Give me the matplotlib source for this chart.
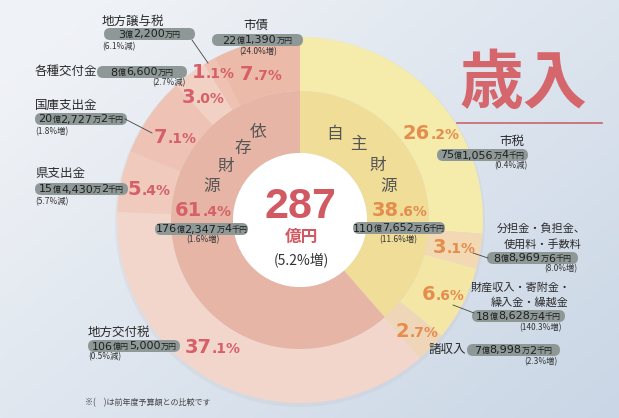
import re
import matplotlib
matplotlib.use('Agg')
import matplotlib.pyplot as plt
import numpy as np
from matplotlib.patches import FancyBboxPatch

W, H = 619, 418
plt.rcParams['font.family'] = ['Noto Sans CJK JP', 'DejaVu Sans']

# ---------------- data ----------------
outer_labels = ['市税', '分担金・負担金、\n使用料・手数料', '財産収入・寄附金・\n繰入金・繰越金', '諸収入',
                '地方交付税', '県支出金', '国庫支出金', '各種交付金', '地方譲与税', '市債']
outer_pct = [26.2, 3.1, 6.6, 2.7, 37.1, 5.4, 7.1, 3.0, 1.1, 7.7]
outer_amount = ['75億1,056万4千円', '8億8,969万6千円', '18億8,628万4千円', '7億8,998万2千円',
                '106億円5,000万円', '15億4,430万2千円', '20億2,727万2千円', '8億6,600万円',
                '3億2,200万円', '22億1,390万円']
outer_change = ['(0.4%減)', '(8.0%増)', '(140.3%増)', '(2.3%増)', '(0.5%減)', '(5.7%減)',
                '(1.8%増)', '(2.7%減)', '(6.1%減)', '(24.0%増)']
inner_labels = ['自主財源', '依存財源']
inner_pct = [38.6, 61.4]
inner_amount = ['110億7,652万6千円', '176億2,347万4千円']
inner_change = ['(11.6%増)', '(1.6%増)']
total_label = '287'
total_unit = '億円'
total_change = '(5.2%増)'
title = '歳入'
footnote = '※(　)は前年度予算額との比較です'

# ---------------- style / layout ----------------
outer_colors = ['#f5ebab', '#f2d9b4', '#f4e7a6', '#f0d6b8',
                '#f2d6cc', '#efcabd', '#eec3b5', '#f2d1c5', '#eec1b2', '#ecbaa8']
inner_colors = ['#efdd98', '#e7b5a5']
PINK = '#d65f68'
ORANGE = '#e48d4c'

cx, cy = 300, 220  # image coords
R_OUT, R_MID, R_IN = 183, 129, 67

fig = plt.figure(figsize=(W / 100, H / 100), dpi=100)
ax = fig.add_axes([0, 0, 1, 1])

def Y(y):
    return H - y

# background gradient
gx, gy = np.meshgrid(np.linspace(0, 1, 200), np.linspace(0, 1, 150))
t = np.clip(0.6 * gx + 0.5 * gy - 0.1, 0, 1)
c0 = np.array([0.94, 0.95, 0.965])
c1 = np.array([0.79, 0.84, 0.90])
bg = c0[None, None, :] * (1 - t[..., None]) + c1[None, None, :] * t[..., None]
ax.imshow(bg, extent=[0, W, 0, H], origin='upper', zorder=0, aspect='auto')

# soft shadow
ax.add_patch(plt.Circle((cx, Y(cy) - 2), R_OUT + 2, color='#b9b3b3', alpha=0.15, lw=0, zorder=1))

ax.pie(outer_pct, radius=R_OUT, center=(cx, Y(cy)), startangle=90, counterclock=False,
       colors=outer_colors, wedgeprops=dict(width=R_OUT - R_MID, linewidth=0), frame=True)
ax.pie(inner_pct, radius=R_MID, center=(cx, Y(cy)), startangle=90, counterclock=False,
       colors=inner_colors, wedgeprops=dict(width=R_MID - R_IN, linewidth=0), frame=True)
ax.add_patch(plt.Circle((cx, Y(cy)), R_IN, color='white', lw=0, zorder=3))

ax.set_xlim(0, W)
ax.set_ylim(0, H)
ax.set_aspect('equal')
ax.set_axis_off()

renderer = fig.canvas.get_renderer()

def rich(x, y, parts, ha='center', va='baseline', zorder=6):
    texts, widths = [], []
    inv = ax.transData.inverted()
    for s, kw in parts:
        tt = ax.text(0, Y(y), s, ha='left', va=va, zorder=zorder, **kw)
        bb = tt.get_window_extent(renderer=renderer)
        x0 = inv.transform((bb.x0, bb.y0))[0]
        x1 = inv.transform((bb.x1, bb.y0))[0]
        texts.append(tt)
        widths.append(x1 - x0)
    total = sum(widths)
    start = {'center': x - total / 2, 'left': x, 'right': x - total}[ha]
    for tt, w in zip(texts, widths):
        tt.set_x(start)
        start += w

def pct_label(x, y, v, color):
    s = f'{v:.1f}%'
    a, b = s.split('.')
    rich(x, y, [(a, dict(fontsize=14, fontweight='bold', color=color, family='DejaVu Sans')),
                ('.' + b, dict(fontsize=10, fontweight='bold', color=color, family='DejaVu Sans'))])

def amount_text(x, y, s):
    parts = []
    for run in re.findall(r'[0-9,]+|[^0-9,]+', s):
        if re.match(r'[0-9,]', run):
            parts.append((run, dict(fontsize=8, color='#1e1e1e', family='DejaVu Sans')))
        else:
            parts.append((run, dict(fontsize=5.8, color='#1e1e1e', family='Noto Sans CJK JP')))
    rich(x, y, parts, va='center')

def pill(xl, xr, yc, s, h=12):
    p = FancyBboxPatch((xl, Y(yc) - h / 2), xr - xl, h,
                       boxstyle=f'round,pad=0,rounding_size={h/2}',
                       fc='#8e9997', ec='none', zorder=5)
    ax.add_patch(p)
    amount_text((xl + xr) / 2, yc + 0.5, s)

def small(x, y, s, ha='center'):
    ax.text(x, Y(y), s, ha=ha, va='center', fontsize=6, color='#333333', zorder=6)

def label(x, y, s, ha='center', fs=9):
    ax.text(x, Y(y), s, ha=ha, va='center', fontsize=fs, color='#2a2a2a', zorder=6)

def label2(x1, y1, x2, y2, s, fs=8):
    l1, l2 = s.split('\n')
    label(x1, y1, l1, fs=fs)
    label(x2, y2, l2, fs=fs)

def leader(p0, p1):
    ax.plot([p0[0], p1[0]], [Y(p0[1]), Y(p1[1])], color='#444444', lw=0.6, zorder=5)

# percentage labels in outer ring (center x, baseline y)
outer_pos = [(431, 139), (454, 253), (443, 300), (417, 337), (213, 353),
             (149, 195), (175, 143), (203, 103), (213, 78), (261, 80)]
for i, (v, (x, y)) in enumerate(zip(outer_pct, outer_pos)):
    pct_label(x, y, v, ORANGE if i < 4 else PINK)

inner_pos = [(400, 216), (203, 216)]
for i, (v, (x, y)) in enumerate(zip(inner_pct, inner_pos)):
    pct_label(x, y, v, ORANGE if i == 0 else PINK)

# inner ring vertical names
own_pos = [(335, 134), (358, 145), (378, 165), (389, 187)]
dep_pos = [(258, 133), (243, 148), (226, 166), (212, 187)]
for ch, (x, y) in zip(inner_labels[0], own_pos):
    ax.text(x, Y(y), ch, ha='center', va='center', fontsize=12, color='#555555', zorder=6)
for ch, (x, y) in zip(inner_labels[1], dep_pos):
    ax.text(x, Y(y), ch, ha='center', va='center', fontsize=12, color='#555555', zorder=6)

# inner amounts
pill(353, 445, 228, inner_amount[0])
small(398, 240, inner_change[0])
pill(155, 248, 229, inner_amount[1])
small(203, 240, inner_change[1])

# outer category annotations
# 市税
label(512, 141, outer_labels[0])
pill(437, 528, 155, outer_amount[0])
small(511, 166, outer_change[0])
# 分担金
label2(541, 229, 543, 244, outer_labels[1])
pill(487, 578, 258, outer_amount[1])
small(561, 269, outer_change[1])
leader((473, 253), (488, 258))
# 財産収入
label2(521, 288, 530, 302, outer_labels[2])
pill(472, 565, 316, outer_amount[2])
small(541, 328, outer_change[2])
leader((453, 305), (474, 313))
# 諸収入
label(447, 350, outer_labels[3])
pill(467, 560, 350, outer_amount[3])
small(541, 362, outer_change[3])
# 地方交付税
label(88, 332, outer_labels[4], ha='left')
pill(88, 180, 346, outer_amount[4])
small(88, 357, outer_change[4], ha='left')
# 県支出金
label(35, 173, outer_labels[5], ha='left')
pill(35, 128, 189, outer_amount[5])
small(35, 202, outer_change[5], ha='left')
# 国庫支出金
label(35, 105, outer_labels[6], ha='left')
pill(35, 127, 119, outer_amount[6])
small(35, 132, outer_change[6], ha='left')
leader((125, 119), (152, 133))
# 各種交付金
label(35, 72, outer_labels[7], ha='left')
pill(97, 187, 72, outer_amount[7])
small(169, 83, outer_change[7])
# 地方譲与税
label(133, 21, outer_labels[8])
pill(104, 195, 34, outer_amount[8])
small(102, 47, outer_change[8], ha='left')
leader((192, 40), (208, 63))
# 市債
label(256, 25, outer_labels[9])
pill(212, 303, 40, outer_amount[9])
small(258, 52, outer_change[9])

# center total
ax.text(cx, Y(218), total_label, ha='center', va='baseline', fontsize=31, fontweight='bold',
        color='#d15a62', family='Liberation Sans', zorder=6)
ax.text(cx + 1, Y(237), total_unit, ha='center', va='center', fontsize=12, fontweight='bold',
        color='#d15a62', zorder=6)
ax.text(cx + 1, Y(261), total_change, ha='center', va='center', fontsize=10,
        color='#333333', zorder=6)

# title
ax.text(523, Y(84), title, ha='center', va='center', fontsize=46, fontweight='bold',
        color='#d4666c', zorder=6)
ax.plot([457, 602], [Y(123), Y(123)], color='#c9646c', lw=1.2, zorder=6)

# footnote
ax.text(85, Y(403), footnote, ha='left', va='center', fontsize=5.8, color='#444444', zorder=6)

fig.savefig('out.png', dpi=100)
